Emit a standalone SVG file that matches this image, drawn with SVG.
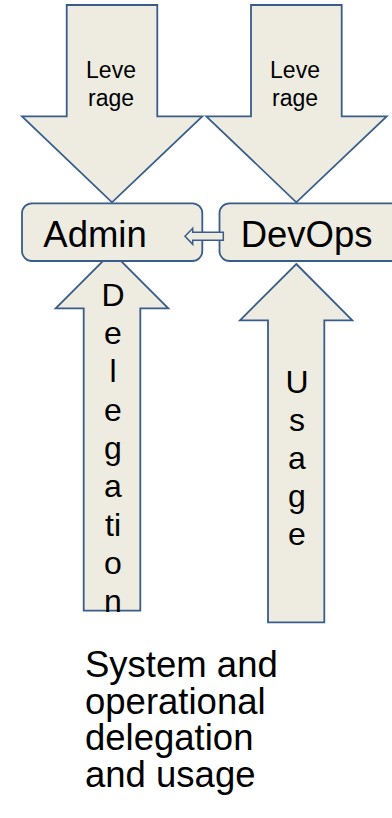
<svg xmlns="http://www.w3.org/2000/svg" width="392" height="818" viewBox="0 0 392 818">
<style>
.shape{fill:#EEECE1;stroke:#385D8A;stroke-width:1.8;stroke-linejoin:miter}
.t{font-family:"Liberation Sans",Arial,sans-serif;fill:#000}
.sm{font-size:23px;text-anchor:middle}
.box{font-size:36.5px}
.vt{font-size:32px;text-anchor:middle}
.cap{font-size:36.5px}
</style>
<rect width="392" height="818" fill="#fff"/>
<g id="connectors">
  <g id="leverage-left">
    <path class="shape" d="M66.7,5 H157.3 V116.3 H202.3 L112,202.3 L22,116.3 H66.7 Z"/>
    <text class="t sm" x="111" y="78.3">Leve</text>
    <text class="t sm" x="111" y="106">rage</text>
  </g>
  <g id="leverage-right">
    <path class="shape" d="M251,5 H341.7 V116.3 H386.7 L296.3,202.3 L206.3,116.3 H251 Z"/>
    <text class="t sm" x="295" y="78.3">Leve</text>
    <text class="t sm" x="295" y="106">rage</text>
  </g>
  <g id="delegation">
    <path class="shape" d="M112,252 L168.3,308.3 H140.3 V610.7 H83.7 V308.3 H55.7 Z"/>
    <text class="t vt" x="113" y="305.7">D</text>
    <text class="t vt" x="113" y="344">e</text>
    <text class="t vt" x="113" y="382.3">l</text>
    <text class="t vt" x="113" y="420.6">e</text>
    <text class="t vt" x="113" y="458.9">g</text>
    <text class="t vt" x="113" y="497.2">a</text>
    <text class="t vt" x="113" y="535.5">ti</text>
    <text class="t vt" x="113" y="573.8">o</text>
    <text class="t vt" x="113" y="612.1">n</text>
  </g>
  <g id="usage">
    <path class="shape" d="M296.3,264 L352.3,320.3 H324.3 V622.3 H268 V320.3 H240 Z"/>
    <text class="t vt" x="297" y="393.3">U</text>
    <text class="t vt" x="297" y="431.2">s</text>
    <text class="t vt" x="297" y="469.1">a</text>
    <text class="t vt" x="297" y="507">g</text>
    <text class="t vt" x="297" y="544.9">e</text>
  </g>
</g>
<g id="admin">
  <rect class="shape" x="22" y="203.3" width="180.3" height="57.7" rx="10" ry="10"/>
  <text class="t box" x="43.3" y="246.7">Admin</text>
</g>
<g id="devops">
  <rect class="shape" x="219.5" y="203.3" width="190" height="57.7" rx="10" ry="10"/>
  <text class="t box" x="240.7" y="246.7">DevOps</text>
</g>
<g id="devops-to-admin">
  <path class="shape" d="M185,236.3 L192.7,228.3 V232.3 H223.3 V240.3 H192.7 V244.3 Z" style="stroke-width:1.5"/>
</g>
<g id="caption">
  <text class="t cap" x="85" y="677">System and</text>
  <text class="t cap" x="85" y="713.7">operational</text>
  <text class="t cap" x="85" y="750.4">delegation</text>
  <text class="t cap" x="85" y="787.1">and usage</text>
</g>
</svg>
